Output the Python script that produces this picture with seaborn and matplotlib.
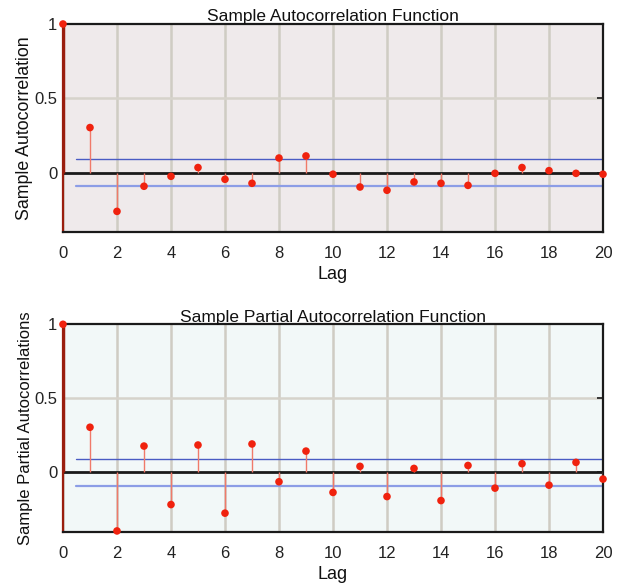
import numpy as np
import pandas as pd
import seaborn as sns
import matplotlib
matplotlib.use('Agg')
import matplotlib.pyplot as plt

# lags and sample values
lags = list(range(0, 21))
acf_vals = [1.0, 0.303, -0.261, -0.092, -0.025, 0.034, -0.045, -0.072, 0.098, 0.112,
            -0.011, -0.097, -0.119, -0.063, -0.072, -0.086, -0.005, 0.034, 0.013, -0.005, -0.011]
pacf_vals = [1.0, 0.305, -0.395, 0.178, -0.217, 0.185, -0.275, 0.192, -0.063, 0.144,
             -0.135, 0.041, -0.163, 0.027, -0.19, 0.047, -0.106, 0.059, -0.086, 0.068, -0.045]
conf_bound = 0.09
xticks = list(range(0, 21, 2))
yticks = [0, 0.5, 1]
ytick_labels = ['0', '0.5', '1']

sns.set_theme(style='white')
plt.rcParams['font.family'] = ['Liberation Sans', 'DejaVu Sans']

fig = plt.figure(figsize=(6.23, 5.84), dpi=100)
ax1 = fig.add_axes([0.1011, 0.6027, 0.8668, 0.3562])
ax2 = fig.add_axes([0.1011, 0.0896, 0.8668, 0.3551])

panels = [
    (ax1, acf_vals, 'Sample Autocorrelation Function', 'Sample Autocorrelation', '#efeaeb', 12.8),
    (ax2, pacf_vals, 'Sample Partial Autocorrelation Function', 'Sample Partial Autocorrelations', '#f2f8f8', 12),
]

for ax, vals, title, ylab, face, ylab_size in panels:
    df = pd.DataFrame({'lag': lags, 'value': vals})
    ax.set_facecolor(face)
    # grid
    for x in xticks:
        ax.axvline(x, color='#cfccc3', lw=1.8, zorder=0)
    ax.axhline(0.5, color='#d6d3cb', lw=1.8, zorder=0)
    # confidence bounds
    ax.plot([0.5, 20], [conf_bound, conf_bound], color='#4a5cc4', lw=1.0, zorder=1)
    ax.plot([0.5, 20], [-conf_bound, -conf_bound], color='#8c9de6', lw=1.6, zorder=1)
    # zero line
    ax.axhline(0, color='#1a1a1a', lw=2.0, zorder=2)
    # stems
    ax.vlines(df['lag'][1:], 0, df['value'][1:], color='#f07a6a', lw=1.0, zorder=3)
    ax.vlines(0, 0, vals[0], color='#9a1e0e', lw=2.5, zorder=3)
    sns.scatterplot(data=df, x='lag', y='value', ax=ax, color='#f0220e', s=30,
                    edgecolor='none', zorder=4, clip_on=False, legend=False)
    ax.set_xlim(0, 20)
    ax.set_ylim(-0.4, 1)
    ax.set_xticks(xticks)
    ax.set_yticks(yticks)
    ax.set_yticklabels(ytick_labels)
    ax.tick_params(axis='both', direction='in', length=4, labelsize=12, colors='#222222',
                   right=True)
    ax.tick_params(axis='x', pad=10)
    ax.tick_params(axis='y', pad=4)
    for side in ['top', 'bottom', 'right']:
        ax.spines[side].set_color('#1a1a1a')
        ax.spines[side].set_linewidth(1.6)
    ax.spines['left'].set_color('#9a1e0e')
    ax.spines['left'].set_linewidth(1.6)
    ax.set_title(title, fontsize=12.5, pad=2, color='#111111')
    ax.set_xlabel('Lag', fontsize=13, labelpad=4, color='#111111')
    ax.set_ylabel(ylab, fontsize=ylab_size, labelpad=1, color='#111111')

fig.savefig('out.png', dpi=100)
